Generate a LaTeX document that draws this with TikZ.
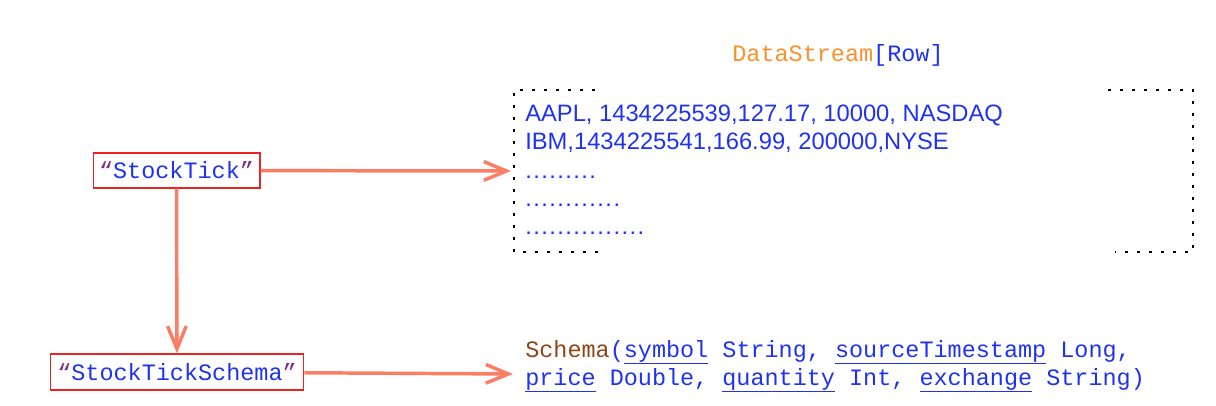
\documentclass[tikz,border=0pt]{standalone}
\usepackage{fontspec}
\setmainfont{Liberation Sans}
\setmonofont{Liberation Mono}
\usetikzlibrary{arrows.meta}
\definecolor{txtblue}{RGB}{30,50,240}
\definecolor{dsorange}{RGB}{250,145,45}
\definecolor{schbrown}{RGB}{140,70,25}
\definecolor{qpurple}{RGB}{130,40,140}
\definecolor{boxred}{RGB}{235,35,35}
\definecolor{arrsalmon}{RGB}{250,125,100}
\newcommand{\monotext}{\ttfamily\fontsize{17.6}{21}\selectfont}
\newcommand{\rowtext}{\fontsize{17.8}{21}\selectfont}
\newcommand{\fld}[1]{\underline{#1}}
\newcommand{\qt}[1]{\textcolor{qpurple}{“}#1\textcolor{qpurple}{”}}
\tikzset{
  keybox/.style={draw=boxred, line width=1pt, inner sep=0pt, text=txtblue, font=\monotext},
  rowline/.style={anchor=base west, inner sep=0pt, text=txtblue, font=\rowtext},
  schemaline/.style={anchor=base west, inner sep=0pt, text=txtblue, font=\monotext},
  flow/.style={draw=arrsalmon, line width=2.6pt, -{Straight Barb[length=17pt,width=14pt]}},
  corner/.style={line width=2pt, dash pattern=on 2pt off 7pt},
}
\begin{document}
\begin{tikzpicture}[x=0.75pt,y=-0.75pt]
\useasboundingbox (0,0) rectangle (1216,406);
% stream title
\node[anchor=base, inner sep=0pt, font=\monotext] (title) at (838,62) {\textcolor{dsorange}{DataStream}\textcolor{txtblue}{[Row]}};
% dotted frame, corners only
\draw[corner] (595,90) -- (514,90) -- (514,252) -- (600,252);
\draw[corner] (1108,90) -- (1193,90) -- (1193,252) -- (1115,252);
% rows of the stream
\node[rowline] (row1) at (525,122) {AAPL, 1434225539,127.17, 10000, NASDAQ};
\node[rowline] (row2) at (525,150) {IBM,1434225541,166.99, 200000,NYSE};
\node[rowline] (row3) at (525,178) {\addfontfeature{LetterSpace=6}.........};
\node[rowline] (row4) at (525,206) {\addfontfeature{LetterSpace=6}............};
\node[rowline] (row5) at (525,234) {\addfontfeature{LetterSpace=6}...............};
\coordinate (streamin) at (511,171);
% keys
\node[keybox, minimum width=125pt, minimum height=26pt] (tick) at (176.5,170.5) {\qt{StockTick}};
\node[keybox, minimum width=190pt, minimum height=27pt] (tickschema) at (177,372) {\qt{StockTickSchema}};
% schema
\node[schemaline] (schema1) at (525,357) {\textcolor{schbrown}{Schema}(\fld{symbol} String, \fld{sourceTimestamp} Long,};
\node[schemaline] (schema2) at (525,385) {\fld{price} Double, \fld{quantity} Int, \fld{exchange} String)};
\coordinate (schemain) at (513,374);
% connectors
\draw[flow] (tick) -- (streamin);
\draw[flow] (tick) -- (tickschema);
\draw[flow] (tickschema) -- (schemain);
\end{tikzpicture}
\end{document}
